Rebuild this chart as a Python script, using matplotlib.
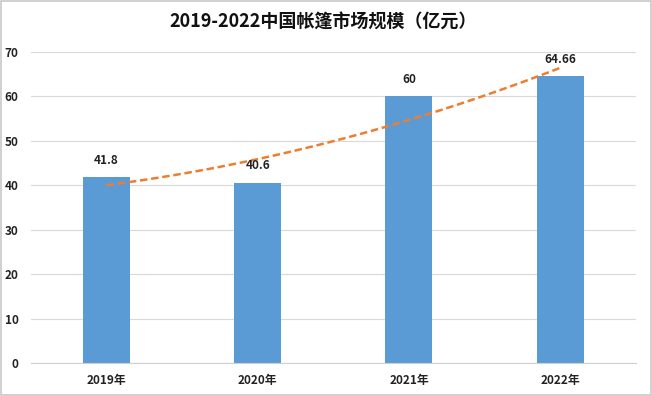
import numpy as np
import matplotlib.pyplot as plt
from matplotlib.patches import Rectangle

plt.rcParams['font.family'] = ['Noto Sans CJK SC', 'DejaVu Sans']

years = ['2019年', '2020年', '2021年', '2022年']
values = [41.8, 40.6, 60, 64.66]
labels = ['41.8', '40.6', '60', '64.66']

fig = plt.figure(figsize=(6.52, 3.96), dpi=100)
ax = fig.add_axes([0.0475, 0.0833, 0.9275, 0.7854])

x = np.arange(len(years))
ax.bar(x, values, width=0.31, color='#5B9BD5', zorder=2)

# polynomial (order 2) trendline, as in the original spreadsheet chart
coef = np.polyfit(x, values, 2)
xs = np.linspace(x[0], x[-1], 100)
ax.plot(xs, np.polyval(coef, xs), color='#ED7D31', lw=1.8, ls=(0, (3, 1.5)), zorder=3)

for xi, v, t in zip(x, values, labels):
    ax.text(xi, v + 2.3, t, ha='center', va='bottom', fontsize=8.5,
            fontweight='bold', color='#222222', zorder=4)

ax.set_xlim(-0.5, 3.5)
ax.set_ylim(0, 70)
ax.set_yticks(range(0, 71, 10))
ax.set_xticks(x)
ax.set_xticklabels(years, fontsize=8.5, fontweight='bold', color='#222222')
for lab in ax.get_yticklabels():
    lab.set_fontsize(8.5)
    lab.set_fontweight('bold')
    lab.set_color('#222222')
ax.tick_params(length=0, pad=8)
ax.tick_params(axis='y', pad=9)
ax.grid(axis='y', color='#d9d9d9', lw=0.8, zorder=0)
ax.set_axisbelow(True)
for s in ['top', 'right', 'left']:
    ax.spines[s].set_visible(False)
ax.spines['bottom'].set_color('#d0d0d0')

fig.text(0.495, 0.945, '2019-2022中国帐篷市场规模（亿元）', ha='center', va='center',
         fontsize=13, fontweight='bold', color='#111111')

fig.patches.append(Rectangle((0.001, 0.002), 0.997, 0.996, transform=fig.transFigure,
                             fill=False, ec='#c8c8c8', lw=1.2))

fig.savefig('out.png', dpi=100)
